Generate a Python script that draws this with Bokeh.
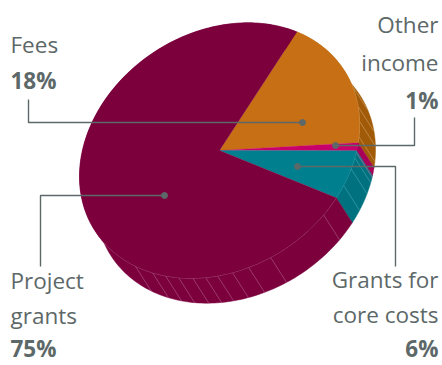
import numpy as np
from bokeh.plotting import figure
from bokeh.models import Range1d
from bokeh.core.properties import value
from bokeh.embed import file_html
from bokeh.resources import INLINE

# Income shares, in drawing order (clockwise from the top)
categories = ["Fees", "Other income", "Grants for core costs", "Project grants"]
shares = [18, 1, 6, 75]
top_colors = ["#c76f14", "#c8006a", "#00808f", "#7b003c"]
wall_colors = ["#a05a08", "#a80058", "#00727f", "#7b003c"]
rule_colors = ["#d9a465", "#d86aa5", "#4aa6b0", "#b0628f"]

# Rule positions on the pie's side wall, degrees along the rim
wall_rules = [
    [-19, -8.5, -1.5, 5.5],
    [12.5],
    [15, 20, 27.6],
    [42, 68.6, 78, 84.7, 90.8, 95.7, 101, 107, 112.7, 118.6, 127],
]

# Projection of the tilted pie
CX, CY = 219, 150
UX, UY, VY = 140, -26, 125
DX, DY = 16, 25
START = -56.5
INK = "#5d6868"
MIDLINE_SHIFT = -9


def rim(t_deg):
    t = np.radians(t_deg)
    return CX + UX * np.cos(t), CY + UY * np.cos(t) + VY * np.sin(t)


p = figure(width=442, height=365, output_backend="svg", toolbar_location=None,
           x_range=Range1d(0, 442), y_range=Range1d(365, 0),
           min_border=0, outline_line_color=None)
p.axis.visible = False
p.grid.visible = False
p.background_fill_color = "white"
p.border_fill_color = "white"

edges = START + np.cumsum([0] + shares) * 3.6
spans = list(zip(edges[:-1], edges[1:]))

# Side walls, back to front
for (a, b), col in zip(spans, wall_colors):
    ts = np.linspace(a, b, 200)
    x, y = rim(ts)
    p.patch(np.r_[x, x[::-1] + DX], np.r_[y, y[::-1] + DY],
            fill_color=col, line_color=col, line_width=0.5)

# Thin rules across the walls, and the lit rim edge
for rules, col, (a, b) in zip(wall_rules, rule_colors, spans):
    for t in rules:
        x, y = rim(t)
        p.line([x, x + DX], [y, y + DY], line_color=col, line_width=0.6)
    ts = np.linspace(a, min(b, 150), 120)
    x, y = rim(ts)
    p.line(x, y, line_color=col, line_width=0.8)

# Top face
for (a, b), col in zip(spans, top_colors):
    ts = np.linspace(a, b, 200)
    x, y = rim(ts)
    p.patch(np.r_[CX, x], np.r_[CY, y], fill_color=col, line_color=col, line_width=0.3)

# Leader lines from each slice to its label
leaders = [
    ([302, 28, 28], [122, 122, 99]),
    ([335, 414, 414], [145, 145, 117]),
    ([297, 395, 395], [166, 166, 266]),
    ([164, 40, 40], [195, 195, 266]),
]
for xs, ys in leaders:
    p.line(xs, ys, line_color=INK, line_width=1.4)
    p.scatter([xs[0]], [ys[0]], size=6, fill_color=INK, line_color=INK)

# Labels
labels = [
    (10, 53, "Fees", "normal", "left"),
    (10, 89, "18%", "bold", "left"),
    (438, 33, "Other", "normal", "right"),
    (438, 71, "income", "normal", "right"),
    (438, 109, "1%", "bold", "right"),
    (438, 288, "Grants for", "normal", "right"),
    (438, 323, "core costs", "normal", "right"),
    (438, 357, "6%", "bold", "right"),
    (10, 289, "Project", "normal", "left"),
    (10, 324, "grants", "normal", "left"),
    (10, 357, "75%", "bold", "left"),
]
for x, y, s, style, align in labels:
    p.text([x], [y + MIDLINE_SHIFT], text=[s], text_font=value("Open Sans"),
           text_font_size="22.5px", text_font_style=style, text_color=INK,
           text_align=align, text_baseline="middle")

open("out.html", "w").write(file_html(p, INLINE))
